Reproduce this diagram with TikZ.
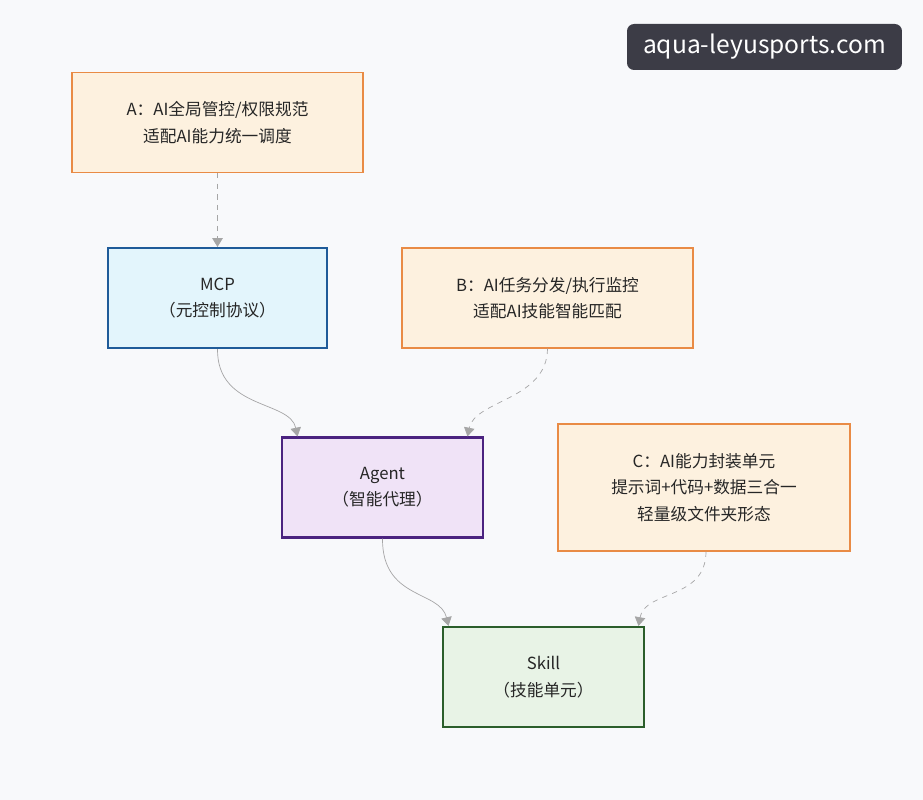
\documentclass[tikz,border=0pt]{standalone}
\usepackage{fontspec}
\setmainfont{Noto Sans CJK SC}
\definecolor{PageBg}{HTML}{F8F9FB}
\definecolor{NoteFill}{HTML}{FDF1DF}
\definecolor{NoteLine}{HTML}{E98B45}
\definecolor{McpFill}{HTML}{E3F5FC}
\definecolor{McpLine}{HTML}{1F5B99}
\definecolor{AgentFill}{HTML}{F0E3F7}
\definecolor{AgentLine}{HTML}{4B2380}
\definecolor{SkillFill}{HTML}{E8F3E6}
\definecolor{SkillLine}{HTML}{2B5E2B}
\definecolor{LinkGray}{HTML}{A6A6A6}
\definecolor{MarkBg}{HTML}{3C3C46}
\usetikzlibrary{arrows.meta}
\begin{document}
\begin{tikzpicture}[x=0.02cm, y=-0.02cm,
    every node/.style={font=\fontsize{9.5}{15}\selectfont, align=center, text=black!85},
    note/.style={draw=NoteLine, fill=NoteFill, thick, minimum width=5.82cm, minimum height=2cm},
    box/.style={very thick, minimum width=4.02cm, minimum height=2cm},
    link/.style={draw=LinkGray, -{Triangle[length=5pt, width=6pt]}, thin},
    hint/.style={link, dashed}]
        % Canvas
        \fill[PageBg] (0,0) rectangle (923,800);

        % Watermark
        \node[fill=MarkBg, rounded corners=4pt, minimum width=5.5cm, minimum height=0.92cm,
              text=white, font=\fontsize{14}{16}\selectfont] (mark) at (764.5,47) {aqua-leyusports.com};

        % Main chain
        \node[box, draw=McpLine, fill=McpFill, minimum width=4.38cm] (mcp) at (217.5,298) {MCP\\（元控制协议）};
        \node[box, draw=AgentLine, fill=AgentFill] (agent) at (382.5,487.5) {Agent\\（智能代理）};
        \node[box, draw=SkillLine, fill=SkillFill] (skill) at (543.5,677) {Skill\\（技能单元）};

        % Notes
        \node[note] (noteA) at (217.5,122.5) {A：AI全局管控/权限规范\\适配AI能力统一调度};
        \node[note] (noteB) at (547.5,298) {B：AI任务分发/执行监控\\适配AI技能智能匹配};
        \node[note, minimum width=5.84cm, minimum height=2.54cm] (noteC) at (704,487.5) {C：AI能力封装单元\\提示词+代码+数据三合一\\轻量级文件夹形态};

        % Links
        \draw[hint] (noteA) -- (mcp);
        \draw[link] (mcp.south) .. controls (217,410) and (290,400) .. ([xshift=-1.7cm]agent.north);
        \draw[hint] (noteB.south) .. controls (547,400) and (475,400) .. ([xshift=1.7cm]agent.north);
        \draw[link] (agent.south) .. controls (382,600) and (440,590) .. ([xshift=-1.9cm]skill.north);
        \draw[hint] ([xshift=0.04cm]noteC.south) .. controls (706,600) and (645,590) .. ([xshift=1.9cm]skill.north);
    \end{tikzpicture}
\end{document}
